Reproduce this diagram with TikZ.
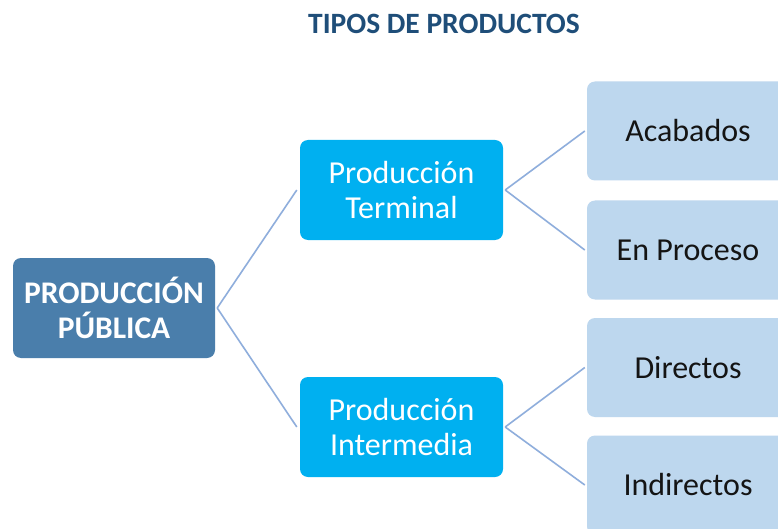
\documentclass[tikz,border=0pt]{standalone}
\usepackage{fontspec}
\setmainfont{Carlito}
\definecolor{titlecol}{RGB}{31,78,121}
\definecolor{rootcol}{RGB}{74,126,171}
\definecolor{midcol}{RGB}{0,176,240}
\definecolor{leafcol}{RGB}{189,215,238}
\definecolor{linecol}{RGB}{143,174,220}
\definecolor{leaftext}{RGB}{20,20,20}
\begin{document}
\begin{tikzpicture}[x=1pt,y=-1pt]
\tikzset{
  boxbase/.style={rectangle, rounded corners=8pt, inner sep=0pt, align=center,
    font=\fontsize{32}{35}\selectfont},
  rootbox/.style={boxbase, fill=rootcol, text=white, minimum width=202pt, minimum height=100pt,
    font=\fontsize{31.5}{35}\selectfont\bfseries},
  midbox/.style={boxbase, fill=midcol, text=white, minimum width=203pt, minimum height=100pt},
  leafbox/.style={boxbase, fill=leafcol, text=leaftext, minimum width=202pt, minimum height=99pt},
  link/.style={draw=linecol, line width=1.6pt}
}
\useasboundingbox (0,0) rectangle (778,529);
\clip (0,0) rectangle (778,529);
\fill[white] (0,0) rectangle (778,529);
\node[font=\fontsize{29.5}{34}\selectfont\bfseries, text=titlecol] (title) at (444,24) {TIPOS DE PRODUCTOS};
\node[rootbox] (root) at (114,308) {PRODUCCIÓN\\PÚBLICA};
\node[midbox] (term) at (401.5,190) {Producción\\Terminal};
\node[midbox] (inter) at (401.5,427) {Producción\\Intermedia};
\node[leafbox] (acab) at (688,131) {Acabados};
\node[leafbox] (proc) at (688,250) {En Proceso};
\node[leafbox] (dir) at (688,367.5) {Directos};
\node[leafbox] (indir) at (688,485) {Indirectos};
\draw[link] ([xshift=2pt]root.east) -- ([xshift=-3pt]term.west);
\draw[link] ([xshift=2pt]root.east) -- ([xshift=-3pt]inter.west);
\draw[link] ([xshift=2pt]term.east) -- ([xshift=-2pt]acab.west);
\draw[link] ([xshift=2pt]term.east) -- ([xshift=-2pt]proc.west);
\draw[link] ([xshift=2pt]inter.east) -- ([xshift=-2pt]dir.west);
\draw[link] ([xshift=2pt]inter.east) -- ([xshift=-2pt]indir.west);
\end{tikzpicture}
\end{document}
